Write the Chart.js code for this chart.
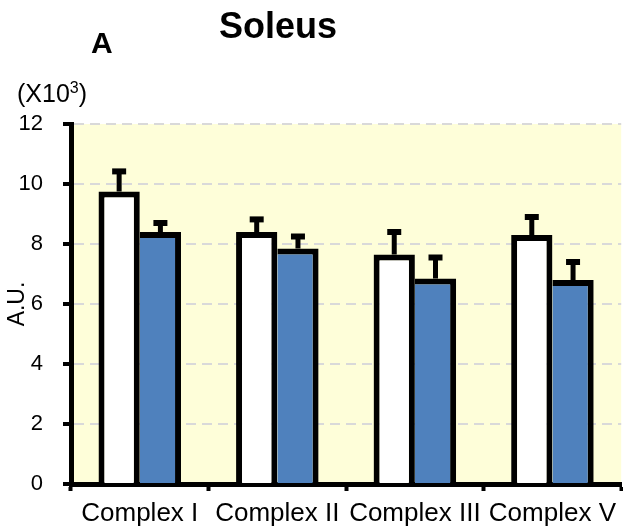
<!DOCTYPE html>
<html>
<head>
<meta charset="utf-8">
<script src="https://cdn.jsdelivr.net/npm/chart.js@4/dist/chart.umd.min.js"></script>
<style>
  html, body { margin: 0; padding: 0; background: #fff; }
  #wrap { position: relative; width: 623px; height: 531px; font-family: "Liberation Sans", Arial, sans-serif; }
  #lienzo { position: absolute; left: 0; top: 0; }
  .txt { position: absolute; line-height: 1; white-space: nowrap; color: #000; }
  #titulo { left: 219px; top: 8px; font-size: 36px; font-weight: bold; }
  #letra { left: 91px; top: 28px; font-size: 30px; font-weight: bold; }
  #escala { left: 17px; top: 81px; font-size: 25px; }
  #escala sup { font-size: 16px; vertical-align: 9px; line-height: 0; }
</style>
</head>
<body>
<div id="wrap">
  <canvas id="lienzo" width="623" height="531"></canvas>
  <div class="txt" id="titulo">Soleus</div>
  <div class="txt" id="letra">A</div>
  <div class="txt" id="escala">(X10<sup>3</sup>)</div>
</div>
<script>
const categorias = ["Complex I", "Complex II", "Complex III", "Complex V"];
const valoresBlanco = [9.75, 8.4, 7.65, 8.3];
const erroresBlanco = [0.67, 0.42, 0.75, 0.6];
const valoresAzul = [8.4, 7.85, 6.85, 6.8];
const erroresAzul = [0.3, 0.4, 0.7, 0.6];
const ejeYMin = 0;
const ejeYMax = 12;
const ejeYPaso = 2;

const fondoAmarillo = {
    id: "fondoAmarillo",
    beforeDraw(chart) {
        const { ctx, chartArea } = chart;
        ctx.save();
        ctx.fillStyle = "#FEFED9";
        ctx.fillRect(chartArea.left, chartArea.top, chartArea.right - chartArea.left, chartArea.bottom - chartArea.top);
        ctx.restore();
    }
};

// barras de error: linea vertical + tapa
const barrasError = {
    id: "barrasError",
    afterDatasetsDraw(chart) {
        const { ctx } = chart;
        const y = chart.scales.y;
        chart.data.datasets.forEach((ds, i) => {
            const meta = chart.getDatasetMeta(i);
            meta.data.forEach((barra, j) => {
                const arriba = y.getPixelForValue(ds.data[j] + ds.errores[j]);
                ctx.save();
                ctx.strokeStyle = "#000";
                ctx.lineWidth = 5;
                ctx.beginPath();
                ctx.moveTo(barra.x, barra.y);
                ctx.lineTo(barra.x, arriba);
                ctx.stroke();
                ctx.lineWidth = 6;
                ctx.beginPath();
                ctx.moveTo(barra.x - 7, arriba);
                ctx.lineTo(barra.x + 7, arriba);
                ctx.stroke();
                ctx.restore();
            });
        });
    }
};

new Chart(document.getElementById("lienzo").getContext("2d"), {
    type: "bar",
    data: {
        labels: categorias,
        datasets: [{
            data: valoresBlanco,
            errores: erroresBlanco,
            backgroundColor: "#FFFFFF",
            borderColor: "#000000",
            borderWidth: { top: 6, left: 6, right: 6, bottom: 0 },
            borderSkipped: false
        }, {
            data: valoresAzul,
            errores: erroresAzul,
            backgroundColor: "#4F81BD",
            borderColor: "#000000",
            borderWidth: { top: 6, left: 0, right: 6, bottom: 0 },
            borderSkipped: false
        }]
    },
    options: {
        responsive: false,
        animation: false,
        devicePixelRatio: 1,
        layout: { padding: { top: 124, right: 0, left: 0, bottom: 0 } },
        datasets: { bar: { barPercentage: 1, categoryPercentage: 0.6 } },
        plugins: { legend: { display: false }, tooltip: { enabled: false } },
        scales: {
            x: {
                offset: true,
                grid: { offset: true, drawOnChartArea: false, drawTicks: true, tickLength: 7, tickWidth: 4, tickColor: "#000" },
                border: { display: true, color: "#000", width: 5 },
                ticks: { color: "#000", padding: 7, maxRotation: 0, autoSkip: false, font: { family: "Liberation Sans", size: 26 } },
                afterFit(scale) { scale.height = 47; }
            },
            y: {
                min: ejeYMin,
                max: ejeYMax,
                grid: { color: "#D9D9D9", lineWidth: 2, tickColor: "#000", tickWidth: 4, tickLength: 8 },
                border: { display: true, color: "#000", width: 5, dash: [10, 6] },
                ticks: { stepSize: ejeYPaso, color: "#000", padding: 20, font: { family: "Liberation Sans", size: 22 } },
                title: { display: true, text: "A.U.", color: "#000", padding: { top: 4, bottom: 0 }, font: { family: "Liberation Sans", size: 23 } },
                afterFit(scale) { scale.width = 71; }
            }
        }
    },
    plugins: [fondoAmarillo, barrasError]
});
</script>
</body>
</html>
